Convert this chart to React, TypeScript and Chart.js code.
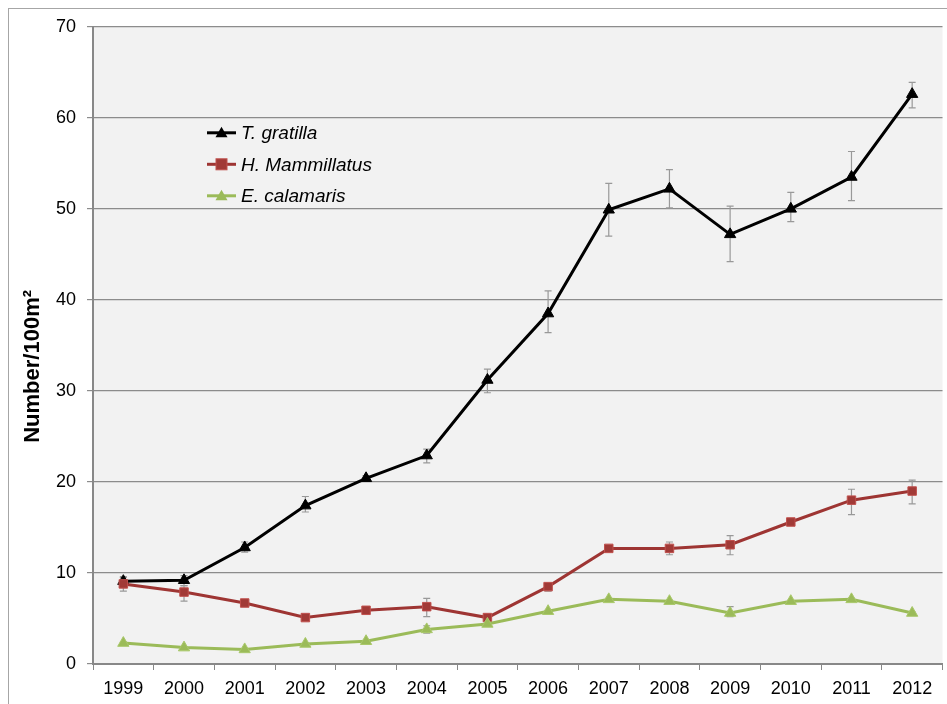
import React, { useEffect, useRef } from "react";
import { Chart, registerables } from "chart.js";

Chart.register(...registerables);

const years = ["1999", "2000", "2001", "2002", "2003", "2004", "2005", "2006", "2007", "2008", "2009", "2010", "2011", "2012"];

const tGratilla = [9.1, 9.2, 12.8, 17.4, 20.4, 22.9, 31.2, 38.5, 49.9, 52.2, 47.2, 50.0, 53.5, 62.6];
const tGratillaLow = [8.6, 8.6, 12.3, 16.7, 20.1, 22.1, 29.8, 36.4, 47.0, 50.1, 44.2, 48.6, 50.9, 61.1];
const tGratillaHigh = [9.6, 9.7, 13.4, 18.4, 20.7, 23.6, 32.4, 41.0, 52.8, 54.3, 50.3, 51.8, 56.3, 63.9];

const hMammillatus = [8.8, 7.9, 6.7, 5.1, 5.9, 6.3, 5.1, 8.5, 12.7, 12.7, 13.1, 15.6, 18.0, 19.0];
const hMammillatusLow = [8.0, 6.9, 6.5, 4.9, 5.7, 5.2, 4.9, 8.0, 12.5, 12.0, 12.0, 15.3, 16.4, 17.6];
const hMammillatusHigh = [9.5, 8.6, 6.9, 5.3, 6.1, 7.2, 5.3, 8.9, 12.9, 13.4, 14.1, 15.9, 19.2, 20.2];

const eCalamaris = [2.3, 1.8, 1.6, 2.2, 2.5, 3.8, 4.4, 5.8, 7.1, 6.9, 5.6, 6.9, 7.1, 5.6];
const eCalamarisLow = [2.2, 1.7, 1.5, 2.1, 2.4, 3.4, 4.3, 5.7, 7.0, 6.8, 5.2, 6.8, 7.0, 5.5];
const eCalamarisHigh = [2.4, 1.9, 1.7, 2.3, 2.6, 4.2, 4.5, 5.9, 7.2, 7.0, 6.3, 7.0, 7.2, 5.7];

const yTicks = [0, 10, 20, 30, 40, 50, 60, 70];
const yTitle = "Number/100m²";

const seriesNames = ["T. gratilla", "H. Mammillatus", "E. calamaris"];
const lineColors = ["#000000", "#9e3533", "#9bbb59"];
const pointFills = ["#000000", "#a13a37", "#9bbb59"];
const pointBorders = ["#000000", "#c0504d", "#a9c86a"];
const pointStyles = ["triangle", "rect", "triangle"];
const errLows = [tGratillaLow, hMammillatusLow, eCalamarisLow];
const errHighs = [tGratillaHigh, hMammillatusHigh, eCalamarisHigh];

const FONT = "'Liberation Sans', Arial, sans-serif";

const plotBgPlugin = {
  id: "plotBg",
  beforeDraw(chart: any) {
    const { ctx, chartArea } = chart;
    ctx.save();
    ctx.fillStyle = "#f2f2f2";
    ctx.fillRect(chartArea.left, chartArea.top, chartArea.right - chartArea.left, chartArea.bottom - chartArea.top);
    ctx.restore();
  },
};

const errorBarPlugin = {
  id: "errorBars",
  beforeDatasetsDraw(chart: any) {
    const { ctx } = chart;
    const xs = chart.scales.x;
    const ys = chart.scales.y;
    ctx.save();
    ctx.strokeStyle = "#999999";
    ctx.lineWidth = 1.2;
    errLows.forEach((lows, si) => {
      lows.forEach((lo, i) => {
        const hi = errHighs[si][i];
        const x = xs.getPixelForValue(i);
        const y1 = ys.getPixelForValue(lo);
        const y2 = ys.getPixelForValue(hi);
        ctx.beginPath();
        ctx.moveTo(x, y1);
        ctx.lineTo(x, y2);
        ctx.moveTo(x - 3.5, y1);
        ctx.lineTo(x + 3.5, y1);
        ctx.moveTo(x - 3.5, y2);
        ctx.lineTo(x + 3.5, y2);
        ctx.stroke();
      });
    });
    ctx.restore();
  },
};

const yTitlePlugin = {
  id: "yTitle",
  afterDraw(chart: any) {
    const { ctx, chartArea } = chart;
    ctx.save();
    ctx.translate(24, (chartArea.top + chartArea.bottom) / 2 + 21);
    ctx.rotate(-Math.PI / 2);
    ctx.fillStyle = "#000000";
    ctx.font = "bold 22px " + FONT;
    ctx.textAlign = "center";
    ctx.textBaseline = "middle";
    ctx.fillText(yTitle, 0, 0);
    ctx.restore();
  },
};

const legendPlugin = {
  id: "innerLegend",
  afterDraw(chart: any) {
    const { ctx, chartArea } = chart;
    const x0 = chartArea.left + 114;
    const y0 = chartArea.top + 106;
    const gap = 31.5;
    ctx.save();
    seriesNames.forEach((name, i) => {
      const y = y0 + i * gap;
      ctx.strokeStyle = lineColors[i];
      ctx.lineWidth = 3;
      ctx.beginPath();
      ctx.moveTo(x0, y);
      ctx.lineTo(x0 + 29, y);
      ctx.stroke();
      ctx.fillStyle = pointFills[i];
      const cx = x0 + 14.5;
      if (pointStyles[i] === "rect") {
        ctx.fillRect(cx - 5.5, y - 5.5, 11, 11);
        ctx.strokeStyle = pointBorders[i];
        ctx.lineWidth = 1;
        ctx.strokeRect(cx - 5.5, y - 5.5, 11, 11);
      } else {
        ctx.beginPath();
        ctx.moveTo(cx, y - 6);
        ctx.lineTo(cx + 6, y + 4.5);
        ctx.lineTo(cx - 6, y + 4.5);
        ctx.closePath();
        ctx.fill();
      }
      ctx.fillStyle = "#000000";
      ctx.font = "italic 19px " + FONT;
      ctx.textBaseline = "middle";
      ctx.textAlign = "left";
      ctx.fillText(name, x0 + 34, y + 1);
    });
    ctx.restore();
  },
};

export default function App() {
  const canvasRef = useRef<HTMLCanvasElement | null>(null);

  useEffect(() => {
    if (!canvasRef.current) return;
    const datasets = [tGratilla, hMammillatus, eCalamaris].map((d, i) => ({
      label: seriesNames[i],
      data: d,
      borderColor: lineColors[i],
      backgroundColor: pointFills[i],
      pointBackgroundColor: pointFills[i],
      pointBorderColor: pointBorders[i],
      pointBorderWidth: 1,
      pointStyle: pointStyles[i] as any,
      pointRadius: pointStyles[i] === "rect" ? 6 : 6.5,
      borderWidth: 3,
      tension: 0,
      order: 3 - i,
    }));
    const chart = new Chart(canvasRef.current, {
      type: "line",
      data: { labels: years, datasets },
      options: {
        animation: false,
        responsive: false,
        maintainAspectRatio: false,
        layout: { padding: { top: 13, right: 5, bottom: 3, left: 0 } },
        plugins: {
          legend: { display: false },
          tooltip: { enabled: false },
        },
        scales: {
          x: {
            offset: true,
            grid: {
              offset: true,
              drawOnChartArea: false,
              drawTicks: true,
              tickLength: 6,
              color: "#888888",
            },
            border: { color: "#888888", width: 2 },
            ticks: {
              color: "#000000",
              font: { family: FONT, size: 18 },
              padding: 8,
              maxRotation: 0,
              autoSkip: false,
            },
            afterFit(scale: any) {
              scale.height = 40;
            },
          },
          y: {
            min: 0,
            max: 70,
            afterBuildTicks(scale: any) {
              scale.ticks = yTicks.map((v) => ({ value: v }));
            },
            grid: {
              color: "#8c8c8c",
              lineWidth: 1.2,
              tickLength: 6,
            },
            border: { color: "#888888", width: 2 },
            ticks: {
              color: "#000000",
              font: { family: FONT, size: 18 },
              padding: 11,
            },
            afterFit(scale: any) {
              scale.width = 84;
            },
          },
        },
      },
      plugins: [plotBgPlugin, errorBarPlugin, yTitlePlugin, legendPlugin],
    });
    return () => chart.destroy();
  }, []);

  return (
    <div
      style={{
        position: "fixed",
        left: 8,
        top: 8,
        width: 945,
        height: 700,
        border: "1px solid #a6a6a6",
        background: "#ffffff",
        boxSizing: "border-box",
        overflow: "hidden",
      }}
    >
      <canvas
        ref={canvasRef}
        width={941}
        height={702}
        style={{ display: "block", marginTop: -4 }}
      />
    </div>
  );
}
